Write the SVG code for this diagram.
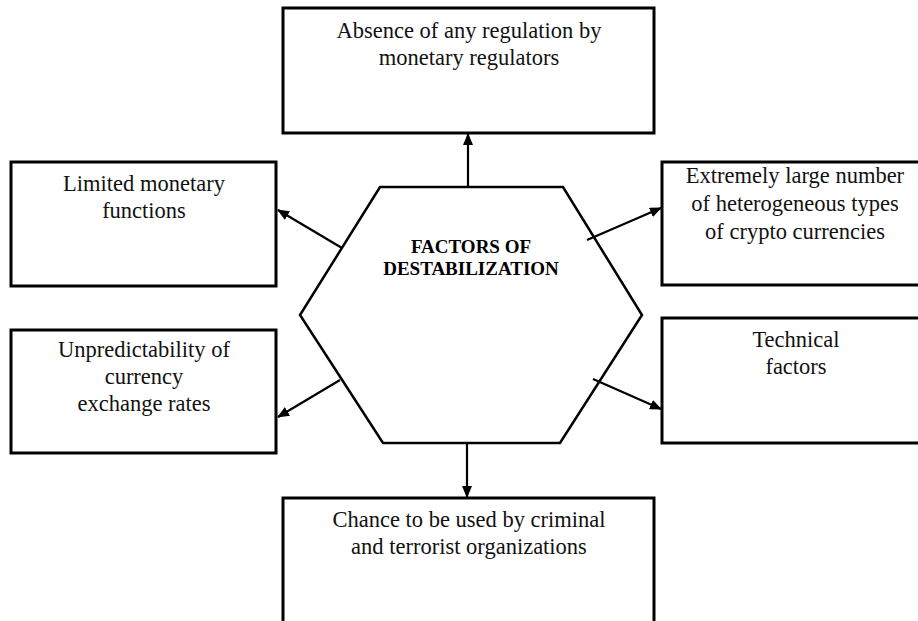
<svg xmlns="http://www.w3.org/2000/svg" width="918" height="621" viewBox="0 0 918 621">
<style>
.box{fill:#fff;stroke:#000;stroke-width:3}
.hex{fill:#fff;stroke:#000;stroke-width:2.5;stroke-linejoin:miter}
.t{font-family:"Liberation Serif","Times New Roman",serif;font-size:22.5px;fill:#111;text-anchor:middle}
.title{font-family:"Liberation Serif","Times New Roman",serif;font-size:19px;font-weight:bold;fill:#000;text-anchor:middle}
.conn{stroke:#000;stroke-width:2.2;fill:none;marker-end:url(#ah)}
</style>
<defs>
<marker id="ah" markerUnits="userSpaceOnUse" markerWidth="12" markerHeight="10" refX="11" refY="5" orient="auto">
<path d="M0,0 L12,5 L0,10 Z" fill="#000"/>
</marker>
</defs>
<rect width="918" height="621" fill="#fff"/>
<g id="node-top">
<rect class="box" x="283" y="8" width="371" height="125"/>
<text class="t" x="469" y="38">Absence of any regulation by</text>
<text class="t" x="469" y="65">monetary regulators</text>
</g>
<g id="node-left-top">
<rect class="box" x="11" y="162" width="265" height="124"/>
<text class="t" x="144" y="191">Limited monetary</text>
<text class="t" x="144" y="218">functions</text>
</g>
<g id="node-left-bottom">
<rect class="box" x="11" y="330" width="265" height="123"/>
<text class="t" x="144" y="357">Unpredictability of</text>
<text class="t" x="144" y="384">currency</text>
<text class="t" x="144" y="411">exchange rates</text>
</g>
<g id="node-right-top">
<rect class="box" x="662" y="162" width="270" height="123"/>
<text class="t" x="795" y="183">Extremely large number</text>
<text class="t" x="795" y="211">of heterogeneous types</text>
<text class="t" x="795" y="239">of crypto currencies</text>
</g>
<g id="node-right-bottom">
<rect class="box" x="662" y="318" width="270" height="125"/>
<text class="t" x="796" y="347">Technical</text>
<text class="t" x="796" y="374">factors</text>
</g>
<g id="node-bottom">
<rect class="box" x="283" y="498" width="371" height="140"/>
<text class="t" x="469" y="527">Chance to be used by criminal</text>
<text class="t" x="469" y="554">and terrorist organizations</text>
</g>
<g id="connectors">
<line class="conn" x1="468" y1="187" x2="468" y2="134"/>
<line class="conn" x1="467" y1="443" x2="467" y2="497"/>
<line class="conn" x1="342" y1="248" x2="278" y2="210"/>
<line class="conn" x1="340" y1="380" x2="278" y2="417"/>
<line class="conn" x1="587" y1="240" x2="661" y2="208"/>
<line class="conn" x1="593" y1="379" x2="661" y2="409"/>
</g>
<g id="node-center">
<polygon class="hex" points="380,187 563,187 642,315 560,443 383,443 300,315" fill="none" style="fill:none"/>
<text class="title" x="471" y="253">FACTORS OF</text>
<text class="title" x="471" y="275">DESTABILIZATION</text>
</g>
</svg>
